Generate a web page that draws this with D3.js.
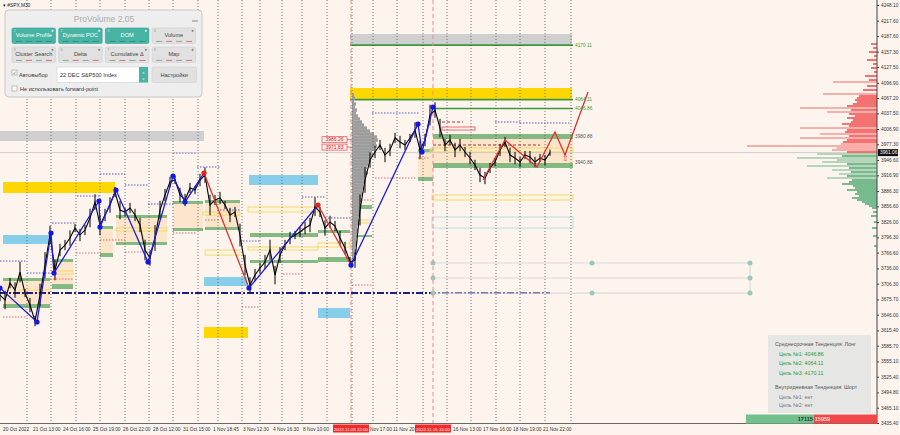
<!DOCTYPE html>
<html><head><meta charset="utf-8">
<script src="https://cdn.jsdelivr.net/npm/d3@7"></script>
<style>
body{margin:0;background:#fdf4ee;}
svg{display:block;font-family:"Liberation Sans",Arial,sans-serif;}
</style>
</head><body><svg id="c" width="900" height="435"></svg>
<script>
// ---------------- DATA ----------------
const symbol = "#SPX,M30";
const yTicks = [4248.10,4217.60,4187.60,4157.30,4127.50,4096.90,4067.20,4037.50,4006.90,3977.30,3946.60,3916.90,3886.30,3856.60,3826.00,3796.30,3766.60,3736.00,3706.30,3675.70,3646.00,3615.40,3585.70,3555.10,3525.40,3494.80,3465.10,3435.40];
const lastPrice = 3961.06;
const timeLabels = ["20 Oct 2022","21 Oct 13:00","24 Oct 16:00","25 Oct 19:00","26 Oct 22:00","28 Oct 12:00","31 Oct 15:00","1 Nov 18:45","3 Nov 12:30","4 Nov 16:30","8 Nov 10:00","Nov 17:00","11 Nov 20:","16 Nov 13:00","17 Nov 16:00","18 Nov 19:00","21 Nov 22:00"];
const timeLabelIdx = [0.6,6.6,12.6,18.6,24.6,30.6,36.6,42.6,48.6,54.6,60.6,74,78.6,90.6,96.6,102.6,108.6];
const daySeparators = [5.4,10.2,15.2,20,25,29.8,34.6,39.6,43.6,48.4,52,56.4,60.4,65.4,70.4,74.6,79.4,84.6,89.4,94.2,99.2,104,109,114.2];
const events = [{idx:70.2,label:"2022.11.09 22:00"},{idx:86.6,label:"2022.11.15 15:00"}];

const closes = [3684.2,3674.5,3707.5,3693.9,3728.9,3688.1,3664.8,3633.6,3684.2,3742.5,
 3800.9,3732.8,3771.7,3781.4,3795.0,3814.5,3800.9,3810.6,3834.0,3865.0,
 3820.3,3839.8,3859.2,3884.5,3849.5,3845.6,3853.4,3839.8,3820.3,3771.7,
 3756.2,3795.0,3849.5,3878.7,3904.0,3907.8,3878.7,3869.0,3892.3,3888.4,
 3907.8,3917.5,3859.2,3869.0,3872.8,3859.2,3839.8,3845.6,3800.9,3742.5,
 3703.7,3723.1,3736.7,3748.4,3771.7,3723.1,3762.0,3781.4,3795.0,3800.9,
 3806.7,3814.5,3820.3,3856.0,3845.6,3814.5,3826.2,3818.4,3795.0,3775.6,
 3748.4,3752.3,3849.5,3907.8,3946.7,3962.3,3975.9,3956.4,3966.2,3989.5,
 3981.7,3975.9,3989.5,4005.0,3966.2,3985.6,4034.2,4043.9,4008.9,3975.9,
 3985.6,3966.2,3975.9,3962.3,3950.6,3937.0,3917.5,3911.7,3931.2,3942.8,
 3966.2,3981.7,3956.4,3950.6,3942.8,3956.4,3952.5,3942.8,3950.6,3946.7,
 3961.1];
// half of each bar's high-low range
const spreads = [12,18,10,15,20,8,14,10,22,25, 18,20,12,10,15,8,12,10,18,15,
 20,12,15,10,18,8,10,12,14,20, 15,25,18,12,10,8,14,12,10,8,
 12,15,20,10,12,8,14,10,22,20, 15,12,10,14,20,18,15,10,12,8,
 10,12,14,18,10,15,12,10,14,12, 10,15,30,25,15,12,10,14,12,10,
 12,10,8,15,18,12,20,15,18,12, 10,14,12,10,12,10,14,12,10,8,
 12,10,14,12,10,8,12,10,8,10, 6];

// zigzag legs: [idx, value]
const zigBlue1 = [[0,3697.9],[7.4,3631.8],[10.2,3804.8],[10.8,3727.0],[19.8,3867.0],[20,3816.4],[23.2,3888.4],[29.6,3748.4],[34.6,3915.6],[37,3865.0],[40.8,3921.4]];
const zigRed1 = [[40.8,3921.4],[49.8,3697.9]];
const zigBlue2 = [[49.8,3697.9],[63.6,3859.2]];
const zigRed2 = [[63.6,3859.2],[70.2,3742.5]];
const zigBlue3 = [[70.2,3742.5],[83.6,4016.7],[84.4,3962.3],[86.6,4049.8]];
const zigRed3 = [[96.6,3907.8],[101,3985.6],[107.4,3933.1],[111,4001.2],[113,3956.4],[117.6,4078.9]];
const zigHighs = [[40.8,3921.4],[63.6,3859.2]];

// zones: [idxStart, idxEnd, top, bottom]
const grayBands = [[0,40.8,4003.1,3983.7],[70,114.4,4191.7,4168.4]];
const yellowBands = [[70,114.4,4086.7,4063.4],[0.6,23,3903.9,3882.6],[40.8,49.6,3622.0,3600.6]];
const blueBands = [[0.6,10,3800.9,3783.4],[49.8,63.6,3917.6,3898.1],[40.8,49.4,3719.2,3701.7],[63.6,70,3659.0,3639.5]];
const beigeBands = [[0.6,10,3711.5,3666.7],[10.4,14.6,3748.4,3705.6],[20,22.6,3812.6,3765.9],[23.2,33.4,3834.0,3787.3],[34.6,40.6,3861.2,3814.5],[41,48,3863.1,3816.5],[83.6,86.6,3962.3,3913.7],[86.6,114.6,3987.5,3940.9]];
const greenBands = [[0.6,10,3717.3,3711.5],[0.6,10,3666.7,3659.0],[10.4,14.6,3754.2,3748.4],[10.4,14.6,3705.6,3695.9],[20,22.6,3818.4,3812.6],[20,22.6,3765.9,3758.1],[23.2,33.4,3839.8,3834.0],[23.2,33.4,3787.3,3781.5],[34.6,40.6,3867.0,3861.2],[34.6,40.6,3814.5,3808.7],[41,48,3868.9,3863.1],[41,48,3816.5,3810.6],[50,63.6,3804.8,3797.0],[50,63.6,3752.3,3746.5],[63.6,70,3810.6,3804.8],[63.6,70,3758.1,3748.4],[70.4,74.4,3859.2,3851.4],[70.4,74.4,3800.9,3797.0],[83.6,86.6,3968.1,3962.3],[83.6,86.6,3913.7,3905.9],[86.6,114.6,3997.3,3987.5],[86.6,114.6,3940.9,3931.2]];
const yellowOutlines = [[4,10,3694.0,3688.1],[10.4,14.6,3730.9,3725.1],[23.2,33.4,3814.5,3808.7],[41,48,3771.7,3762.0],[40.6,48,3845.6,3839.8],[49.6,63.6,3855.3,3845.6],[49.6,63.6,3777.6,3771.7],[63.6,70,3785.3,3777.6],[70.4,74.4,3830.1,3824.2],[86,114.6,3970.1,3962.3],[86.4,114.6,3878.7,3868.9]];
const blueOutlines = [[86.4,114.6,3835.9,3814.5]];
const redOutlines = [[88.4,95,4010.9,4005.0]];

// levels: [idxStart, idxEnd, value]
const blueDotted = [[0,5.4,3750.3],[5.4,10,3727.0],[10.4,15,3824.2],[15.4,20,3876.7],[20,25,3919.5],[25,29.6,3898.1],[29.6,34.6,3861.2],[34.6,39.4,3960.3],[39.4,44,3933.1],[44,48,3849.5],[48,52,3789.2],[60.4,65,3874.8],[65,70,3834.0],[74.4,84,4038.1],[99,104,4020.6],[104,114,4018.7]];
const redDotted = [[0.6,5.4,3641.5],[10,14.6,3715.4],[15.2,20,3765.9],[20,25,3791.2],[25,29.6,3767.8],[34.6,39.4,3804.8],[41,44,3830.1],[48.4,52,3660.9],[56.6,60.4,3725.1],[70.4,74.4,3868.9],[70.4,74.4,3703.7],[75,83.4,3911.7],[83.6,86,3950.6]];
const darkRedDashed = [[86.6,108,3975.9],[88.4,92.6,4020.6]];
const navyLevel = [0,110,3688.1];
const targetLines = [3746.5,3717.3,3688.1];
const targetIdx = [86.6,118.4,150];
const greenTargets = [[70,114.6,4170.11],[70,114.6,4064.11],[86.6,114.6,4046.86]];
const levelLabels = [{t:"4170.11",v:4170.11,g:true},{t:"4064.11",v:4064.11,g:true},{t:"4046.86",v:4046.86,g:true},{t:"3980.88",v:3993.0,g:false},{t:"3940.88",v:3942.0,g:false}];
const pocLabels = [{t:"3986.26",v:3986.26},{t:"3971.83",v:3971.83}];

// volume profiles
const grayTop = 4073.1, grayStep = 5.833;
const grayVols = [2,3,2,4,3,5,4,6,8,10,12,15,18,22,25,26,24,25,22,20,21,18,19,16,15,14,16,13,12,13,11,12,10,11,9,10,8,9,7,8,7,6,7,6,5,6,5,5,4,5,4,3,4,3,3,2];
const sellTop = 4172.3, bookStep = 3.889;
const sellVols = [60,0,40,0,80,0,30,0,100,0,40,0,60,0,30,0,120,0,80,440,0,100,0,140,0,540,180,200,220,200,240,300,770,260,500,280,220,300,240,260,350,280,770,300,320,570,280,770,300,340,360,1300,400,450,300];
const buyTop = 3958.4;
const buyVols = [600,350,800,400,550,300,700,280,450,260,380,300,500,250,280,350,240,220,300,200,220,180,250,200,150,120,80,50,0,40,0,60,0,0,30,0,0,50,0,0,0,40,0,0,0,0,30];
const buyTotal = 17115, sellTotal = 15959;

const panelButtons = ["Volume Profile","Dynamic POC","DOM","Volume","Cluster Search","Delta","Cumulative Δ","Map"];
const panelActive = [true,true,true,false,false,false,false,false];
const infoLines = [
 {t:"Среднесрочная Тенденция: Лонг",k:"h"},
 {t:"Цель №1: 4046.86",k:"g"},
 {t:"Цель №2: 4064.11",k:"g"},
 {t:"Цель №3: 4170.11",k:"g"},
 {t:"Внутридневная Тенденция: Шорт",k:"h"},
 {t:"Цель №1: нет",k:"n"},
 {t:"Цель №2: нет",k:"n"}];

// ---------------- DRAW ----------------
const svg = d3.select('#c');
const x = d3.scaleLinear().domain([0,180]).range([0,900]);
const y = d3.scaleLinear().domain([3435.4,4248.1]).range([423,5]);
const AX = 877;

svg.append('rect').attr('width',900).attr('height',435).attr('fill','#fdf4ee');

function bands(data, fill, op, stroke){
  svg.append('g').selectAll('rect').data(data).join('rect')
    .attr('x',d=>x(d[0])).attr('width',d=>x(d[1])-x(d[0]))
    .attr('y',d=>y(d[2])).attr('height',d=>Math.max(1,y(d[3])-y(d[2])))
    .attr('fill',fill).attr('fill-opacity',op)
    .attr('stroke',stroke||'none').attr('stroke-width',stroke?0.8:0);
}
bands(grayBands,'#cfcfcf',1);
bands(beigeBands,'#fbe2c4',0.85);
bands(yellowBands,'#ffd700',1);
bands(blueBands,'#87ceeb',1);
bands(greenBands,'#6fae6f',0.85);
bands(yellowOutlines,'#fff6c0',0.35,'#f3d15a');
bands(blueOutlines,'none',0,'#a8d8ea');
bands(redOutlines,'none',0,'#e05050');

function levels(data, stroke, dash, w){
  svg.append('g').selectAll('line').data(data).join('line')
    .attr('x1',d=>x(d[0])).attr('x2',d=>x(d[1]))
    .attr('y1',d=>y(d[2])).attr('y2',d=>y(d[2]))
    .attr('stroke',stroke).attr('stroke-width',w||0.9).attr('stroke-dasharray',dash);
}
levels(blueDotted,'#4b4bc8','1.5,1.5');
levels(redDotted,'#e06060','1.5,1.5');
levels(darkRedDashed,'#a02020','3,2');
levels(greenTargets,'#3c963c','',1.6);
levels([navyLevel],'#1c1c8a','7,2,2,2',2);

// current price line
svg.append('line').attr('x1',0).attr('x2',AX).attr('y1',y(lastPrice)).attr('y2',y(lastPrice))
  .attr('stroke','#c4c4c4').attr('stroke-width',0.8);

// target lines with dots
const tg = svg.append('g');
targetLines.forEach(v=>{
  tg.append('line').attr('x1',x(targetIdx[0])).attr('x2',x(targetIdx[2])).attr('y1',y(v)).attr('y2',y(v))
    .attr('stroke','#d9d9d9').attr('stroke-width',1.2);
});
tg.append('line').attr('x1',x(targetIdx[2])).attr('x2',x(targetIdx[2])).attr('y1',y(targetLines[0])).attr('y2',y(targetLines[2]))
  .attr('stroke','#d9d9d9').attr('stroke-width',1.2);
const tdots = [];
targetLines.forEach((v,i)=>targetIdx.forEach((t,j)=>{ if(!(i===1 && j===1)) tdots.push([t,v]); }));
tg.selectAll('circle').data(tdots).join('circle').attr('cx',d=>x(d[0])).attr('cy',d=>y(d[1])).attr('r',2.5).attr('fill','#9cc7bb');

// gray volume profile
svg.append('g').selectAll('rect').data(grayVols).join('rect')
  .attr('x',x(70.4)).attr('y',(d,i)=>y(grayTop - i*grayStep)-1.7).attr('height',3.4)
  .attr('width',d=>d).attr('fill','#9d9d9d');

// grid day separators
svg.append('g').selectAll('line').data(daySeparators).join('line')
  .attr('x1',d=>x(d)).attr('x2',d=>x(d)).attr('y1',0).attr('y2',423)
  .attr('stroke','#555').attr('stroke-width',0.8).attr('stroke-dasharray','1,2');

// event lines
svg.append('g').selectAll('line').data(events).join('line')
  .attr('x1',d=>x(d.idx)).attr('x2',d=>x(d.idx)).attr('y1',0).attr('y2',423)
  .attr('stroke','#ee8a8a').attr('stroke-width',1).attr('stroke-dasharray','4,3');

// POC labels
pocLabels.forEach(p=>{
  const yy = y(p.v);
  svg.append('line').attr('x1',347).attr('x2',x(70.4)).attr('y1',yy).attr('y2',yy).attr('stroke','#e05050').attr('stroke-width',0.8);
  svg.append('rect').attr('x',322).attr('y',yy-3).attr('width',25).attr('height',6).attr('fill','#fff0f0').attr('stroke','#e05050').attr('stroke-width',0.7);
  svg.append('text').attr('x',334.5).attr('y',yy+1.8).attr('text-anchor','middle').attr('font-size',5).attr('fill','#d02020').text(p.t);
});

// price: high-low bars + close line
svg.append('g').selectAll('line').data(closes).join('line')
  .attr('x1',(d,i)=>x(i)).attr('x2',(d,i)=>x(i))
  .attr('y1',(d,i)=>y(d+spreads[i])).attr('y2',(d,i)=>y(d-spreads[i]))
  .attr('stroke','#000').attr('stroke-width',1);
const line = d3.line().x(d=>x(d[0])).y(d=>y(d[1]));
svg.append('path').datum(closes.map((v,i)=>[i,v])).attr('d',line)
  .attr('fill','none').attr('stroke','#000').attr('stroke-width',1.1);

// zigzag
[[zigBlue1,'#1b1be0'],[zigBlue2,'#1b1be0'],[zigBlue3,'#1b1be0'],[zigRed1,'#e03030'],[zigRed2,'#e03030'],[zigRed3,'#e03030']].forEach(([d,c])=>{
  svg.append('path').datum(d).attr('d',line).attr('fill','none').attr('stroke',c).attr('stroke-width',1.3);
});
const blueDots = [...zigBlue1.slice(0,-1), zigBlue2[0], zigRed2[1], ...zigBlue3.slice(1)];
svg.append('g').selectAll('circle').data(blueDots).join('circle')
  .attr('cx',d=>x(d[0])).attr('cy',d=>y(d[1])).attr('r',2.6).attr('fill','#1515e8');
svg.append('g').selectAll('circle').data(zigHighs).join('circle')
  .attr('cx',d=>x(d[0])).attr('cy',d=>y(d[1])).attr('r',2.6).attr('fill','#e82020');
svg.append('text').attr('x',x(113)).attr('y',y(3950)+3).attr('text-anchor','middle').attr('font-size',8).attr('fill','#e04040').text('⇧');

// level labels
svg.append('g').selectAll('text').data(levelLabels).join('text')
  .attr('x',x(115)).attr('y',d=>y(d.v)+1.8).attr('font-size',4.8)
  .attr('fill',d=>d.g?'#3a9a3a':'#555').text(d=>d.t);

// right order-book profile
const pw = d3.scaleLinear().domain([0,1300]).range([0,130]);
svg.append('g').selectAll('rect').data(sellVols).join('rect')
  .attr('x',d=>AX-pw(d)).attr('width',d=>pw(d))
  .attr('y',(d,i)=>y(sellTop - i*bookStep)-1).attr('height',2)
  .attr('fill','#f25a5a').attr('fill-opacity',(d)=>d>350?0.45:0.85);
svg.append('g').selectAll('rect').data(buyVols).join('rect')
  .attr('x',d=>AX-pw(d)).attr('width',d=>pw(d))
  .attr('y',(d,i)=>y(buyTop - i*bookStep)-1).attr('height',2)
  .attr('fill','#5fb07c').attr('fill-opacity',(d)=>d>350?0.45:0.85);

// right axis
const ax = svg.append('g').attr('transform',`translate(${AX},0)`)
  .call(d3.axisRight(y).tickValues(yTicks).tickFormat(d3.format('.2f')).tickSize(2).tickSizeOuter(0));
ax.select('.domain').attr('stroke','#444').attr('stroke-width',1).attr('d','M0,0V423');
ax.selectAll('.tick line').attr('stroke','#444');
ax.selectAll('.tick text').attr('font-size',4.8).attr('fill','#333').attr('x',4)
  .attr('font-family','"Liberation Sans",Arial,sans-serif');
// last price box
svg.append('rect').attr('x',AX+1).attr('y',y(lastPrice)-3.5).attr('width',20).attr('height',7).attr('fill','#111');
svg.append('text').attr('x',AX+3).attr('y',y(lastPrice)+1.8).attr('font-size',4.8).attr('fill','#fff').text(lastPrice.toFixed(2));

// bottom axis
svg.append('line').attr('x1',0).attr('x2',AX).attr('y1',423.5).attr('y2',423.5).attr('stroke','#444').attr('stroke-width',0.8);
svg.append('g').selectAll('text').data(timeLabels).join('text')
  .attr('x',(d,i)=>x(timeLabelIdx[i])).attr('y',430.5).attr('font-size',4.8).attr('fill','#333').text(d=>d);
events.forEach(e=>{
  svg.append('rect').attr('x',x(e.idx)-18).attr('y',424.5).attr('width',36).attr('height',8).attr('fill','#f22a2a');
  svg.append('text').attr('x',x(e.idx)).attr('y',430.5).attr('text-anchor','middle').attr('font-size',4.4).attr('fill','#fff').text(e.label);
});
svg.append('text').attr('x',3).attr('y',7).attr('font-size',4.8).attr('fill','#222').text('▾ '+symbol);

// ProVolume panel
const pn = svg.append('g');
pn.append('rect').attr('x',5).attr('y',10).attr('width',197).attr('height',87).attr('rx',4)
  .attr('fill','#ededed').attr('fill-opacity',0.96).attr('stroke','#c9c9c9');
pn.append('text').attr('x',104).attr('y',21.5).attr('text-anchor','middle').attr('font-size',8.5).attr('fill','#acacac').text('ProVolume 2.05');
pn.append('line').attr('x1',192).attr('x2',198).attr('y1',21).attr('y2',21).attr('stroke','#888');
panelButtons.forEach((b,i)=>{
  const col=i%4,row=Math.floor(i/4);
  const bx=12+col*46.7, by= row===0?28:47, bw=43.5, bh=15.5;
  const act = panelActive[i];
  pn.append('rect').attr('x',bx).attr('y',by).attr('width',bw).attr('height',bh).attr('rx',1.5)
    .attr('fill',act?'#47b4a4':'#e1e1e1').attr('stroke',act?'#3aa393':'#cfcfcf').attr('stroke-width',0.6);
  pn.append('text').attr('x',bx+bw/2).attr('y',by+9.3).attr('text-anchor','middle').attr('font-size',5.6)
    .attr('fill',act?'#fff':'#444').text(b);
  pn.append('circle').attr('cx',bx+bw-3).attr('cy',by+2.8).attr('r',1.1).attr('fill',act?'#d9f0ec':'#888');
  pn.append('text').attr('x',bx+2).attr('y',by+4).attr('font-size',3).attr('fill',act?'#d9f0ec':'#888').text(i+1);
  for(let k=0;k<4;k++){
    pn.append('rect').attr('x',bx+4+k*10).attr('y',by+bh-2.6).attr('width',6).attr('height',1)
      .attr('fill',act?'#2f8a7d':(k%2?'#cf5a5a':'#7a9a7a')).attr('fill-opacity',0.8);
  }
});
pn.append('rect').attr('x',12).attr('y',70).attr('width',5).attr('height',5).attr('fill','#fff').attr('stroke','#999').attr('stroke-width',0.6);
pn.append('text').attr('x',11.5).attr('y',75).attr('font-size',6).attr('fill','#47b4a4').text('✓');
pn.append('text').attr('x',19).attr('y',76.5).attr('font-size',5.6).attr('fill','#333').text('Автовыбор');
pn.append('rect').attr('x',57).attr('y',67).attr('width',91).attr('height',15.5).attr('fill','#fff').attr('stroke','#cfcfcf').attr('stroke-width',0.6);
pn.append('text').attr('x',60).attr('y',76.8).attr('font-size',5.6).attr('fill','#333').text('22 DEC S&P500 Index');
pn.append('rect').attr('x',139).attr('y',67).attr('width',9).attr('height',15.5).attr('fill','#47b4a4');
pn.append('text').attr('x',143.5).attr('y',73.5).attr('text-anchor','middle').attr('font-size',4).attr('fill','#fff').text('˄');
pn.append('text').attr('x',143.5).attr('y',80).attr('text-anchor','middle').attr('font-size',4).attr('fill','#fff').text('˅');
pn.append('rect').attr('x',152).attr('y',67).attr('width',44.5).attr('height',15.5).attr('rx',1.5).attr('fill','#e1e1e1').attr('stroke','#cfcfcf').attr('stroke-width',0.6);
pn.append('text').attr('x',174.2).attr('y',76.8).attr('text-anchor','middle').attr('font-size',5.6).attr('fill','#444').text('Настройки');
pn.append('rect').attr('x',12).attr('y',86).attr('width',5).attr('height',5).attr('fill','#fff').attr('stroke','#999').attr('stroke-width',0.6);
pn.append('text').attr('x',20).attr('y',91).attr('font-size',5.6).attr('fill','#333').text('Не использовать forward-point');

// info box
const ib = svg.append('g');
ib.append('rect').attr('x',768).attr('y',335).attr('width',103).attr('height',78).attr('fill','#e4e4e4').attr('fill-opacity',0.92);
const infoY = [344,353.5,363,372.5,387,396.5,405];
infoLines.forEach((l,i)=>{
  ib.append('text').attr('x',l.k==='h'?775:779).attr('y',infoY[i]+2).attr('font-size',5.3)
    .attr('fill',l.k==='g'?'#2e9a2e':(l.k==='h'?'#555':'#777')).text(l.t);
});
// totals bar
const tb = d3.scaleLinear().domain([0,buyTotal+sellTotal]).range([0,131]);
const tbX0 = AX - tb(buyTotal+sellTotal);
svg.append('rect').attr('x',tbX0).attr('y',414.5).attr('width',tb(buyTotal)).attr('height',9).attr('fill','#72c08e');
svg.append('rect').attr('x',tbX0+tb(buyTotal)).attr('y',414.5).attr('width',tb(sellTotal)).attr('height',9).attr('fill','#f04848');
svg.append('text').attr('x',tbX0+tb(buyTotal)-1).attr('y',421).attr('text-anchor','end').attr('font-size',5.5).attr('font-weight','bold').attr('fill','#1f3a2a').text(buyTotal);
svg.append('text').attr('x',tbX0+tb(buyTotal)+1).attr('y',421).attr('font-size',5.5).attr('font-weight','bold').attr('fill','#ffd9d9').text(sellTotal);
</script>
</body></html>
